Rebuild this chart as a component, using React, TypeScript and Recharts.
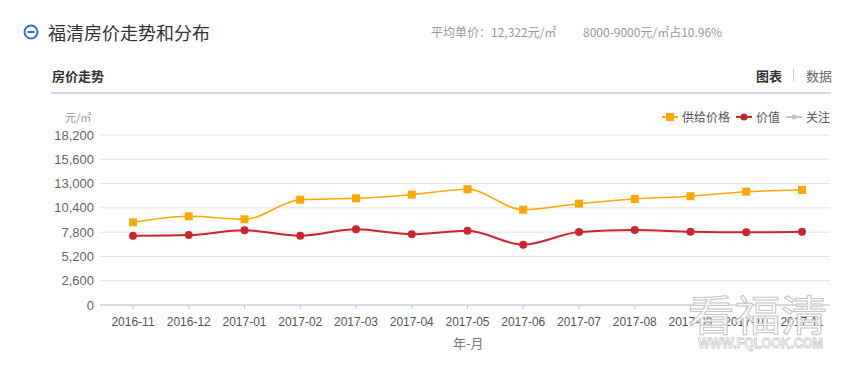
import React from 'react';
import { LineChart, Line, XAxis, YAxis, CartesianGrid } from 'recharts';

const months = ['2016-11', '2016-12', '2017-01', '2017-02', '2017-03', '2017-04', '2017-05', '2017-06', '2017-07', '2017-08', '2017-09', '2017-10', '2017-11'];
const supplyPrice = [8850, 9500, 9180, 11270, 11420, 11810, 12390, 10200, 10850, 11350, 11640, 12130, 12322];
const valuePrice = [7420, 7490, 8000, 7420, 8100, 7570, 7950, 6460, 7820, 8030, 7850, 7780, 7850];
const yTicks = [0, 2600, 5200, 7800, 10400, 13000, 15600, 18200];

const data = months.map((m, i) => ({ month: m, supply: supplyPrice[i], value: valuePrice[i] }));

const CJK = '"Noto Sans CJK SC", "Microsoft YaHei", sans-serif';
const LAT = '"Liberation Sans", Arial, sans-serif';

const ORANGE = '#ffa800';
const RED = '#c9262f';
const GRAY = '#c4c4c4';

const SquareDot = (props: any) => {
  const { cx, cy } = props;
  if (cx == null || cy == null) return null;
  return <rect x={cx - 4} y={cy - 4} width={8} height={8} fill={ORANGE} />;
};

const CircleDot = (props: any) => {
  const { cx, cy } = props;
  if (cx == null || cy == null) return null;
  return <circle cx={cx} cy={cy} r={4} fill={RED} />;
};

const LegendItem = ({ color, label, shape }: { color: string; label: string; shape: 'square' | 'circle' | 'small' }) => (
  <div style={{ display: 'flex', alignItems: 'center', marginLeft: 6 }}>
    <svg width={16} height={10} style={{ marginRight: 4 }}>
      <line x1={0} y1={5} x2={16} y2={5} stroke={color} strokeWidth={2} />
      {shape === 'square' && <rect x={4} y={1} width={8} height={8} fill={color} />}
      {shape === 'circle' && <circle cx={8} cy={5} r={3.5} fill={color} />}
      {shape === 'small' && <circle cx={8} cy={5} r={2.5} fill={color} />}
    </svg>
    <span>{label}</span>
  </div>
);

export default function App() {
  return (
    <div style={{ position: 'absolute', left: 0, top: 0, width: 851, height: 379, background: '#fff', overflow: 'hidden', fontFamily: CJK }}>
      {/* header icon */}
      <svg style={{ position: 'absolute', left: 23, top: 24 }} width={16} height={16}>
        <circle cx={8} cy={8} r={6.5} fill="none" stroke="#2f6fd0" strokeWidth={2} />
        <line x1={4.5} y1={8} x2={11.5} y2={8} stroke="#2f6fd0" strokeWidth={2} />
      </svg>
      <div style={{ position: 'absolute', left: 48, top: 20, fontSize: 18, lineHeight: '24px', color: '#333', whiteSpace: 'nowrap' }}>福清房价走势和分布</div>
      <div style={{ position: 'absolute', left: 431, top: 24, fontSize: 12, lineHeight: '16px', color: '#999', whiteSpace: 'nowrap' }}>平均单价：12,322元/㎡</div>
      <div style={{ position: 'absolute', left: 583, top: 24, fontSize: 12, lineHeight: '16px', color: '#999', whiteSpace: 'nowrap' }}>8000-9000元/㎡占10.96%</div>

      <div style={{ position: 'absolute', left: 52, top: 67, fontSize: 13, lineHeight: '18px', color: '#333', fontWeight: 'bold', whiteSpace: 'nowrap' }}>房价走势</div>
      <div style={{ position: 'absolute', left: 756, top: 67, fontSize: 13, lineHeight: '18px', color: '#333', fontWeight: 'bold', whiteSpace: 'nowrap' }}>图表</div>
      <div style={{ position: 'absolute', left: 793, top: 69, width: 1, height: 13, background: '#ccc' }} />
      <div style={{ position: 'absolute', left: 806, top: 67, fontSize: 13, lineHeight: '18px', color: '#666', whiteSpace: 'nowrap' }}>数据</div>
      <div style={{ position: 'absolute', left: 51, top: 92, width: 780, height: 2, background: '#d3d8e3' }} />

      {/* y unit */}
      <div style={{ position: 'absolute', left: 65, top: 109, fontSize: 11, lineHeight: '16px', color: '#999', whiteSpace: 'nowrap' }}>元/㎡</div>

      {/* legend */}
      <div style={{ position: 'absolute', right: 21, top: 108, display: 'flex', fontSize: 12, lineHeight: '18px', color: '#555', whiteSpace: 'nowrap' }}>
        <LegendItem color={ORANGE} label="供给价格" shape="square" />
        <LegendItem color={RED} label="价值" shape="circle" />
        <LegendItem color={GRAY} label="关注" shape="small" />
      </div>

      <div style={{ position: 'absolute', left: 0, top: 0 }}>
        <LineChart width={851} height={379} data={data} margin={{ top: 135, right: 21, bottom: 44, left: 40 }}>
          <CartesianGrid horizontal={true} vertical={false} stroke="#e3e3e3" />
          <XAxis
            dataKey="month"
            interval={0}
            padding={{ left: 33, right: 28 }}
            height={30}
            axisLine={{ stroke: '#b9c5d8' }}
            tickLine={{ stroke: '#b9c5d8' }}
            tickSize={4}
            tickMargin={8}
            tick={{ fill: '#555', fontSize: 12, fontFamily: LAT }}
          />
          <YAxis
            width={60}
            domain={[0, 18200]}
            ticks={yTicks}
            interval={0}
            axisLine={false}
            tickLine={false}
            tickSize={4}
            tickMargin={2}
            tickFormatter={(v: number) => v.toLocaleString('en-US')}
            tick={{ fill: '#666', fontSize: 13, fontFamily: LAT }}
          />
          <Line type="monotone" dataKey="supply" stroke={ORANGE} strokeWidth={1.5} dot={<SquareDot />} activeDot={false} isAnimationActive={false} />
          <Line type="monotone" dataKey="value" stroke={RED} strokeWidth={2} dot={<CircleDot />} activeDot={false} isAnimationActive={false} />
        </LineChart>
      </div>

      <div style={{ position: 'absolute', left: 453, top: 334, fontSize: 13, lineHeight: '18px', color: '#777', whiteSpace: 'nowrap' }}>年-月</div>

      {/* watermark */}
      <svg style={{ position: 'absolute', left: 0, top: 0 }} width={851} height={379}>
        <text x={688} y={331} fontSize={42} fontFamily={CJK} textLength={139} lengthAdjust="spacingAndGlyphs" fill="#fff" fillOpacity={0.75} stroke="#c6c6c6" strokeWidth={1}>看福清</text>
        <text x={698} y={348} fontSize={14} fontWeight="bold" fontFamily={LAT} textLength={125} lengthAdjust="spacingAndGlyphs" fill="#fff" stroke="#c6c6c6" strokeWidth={0.8}>WWW.FQLOOK.COM</text>
      </svg>
    </div>
  );
}
